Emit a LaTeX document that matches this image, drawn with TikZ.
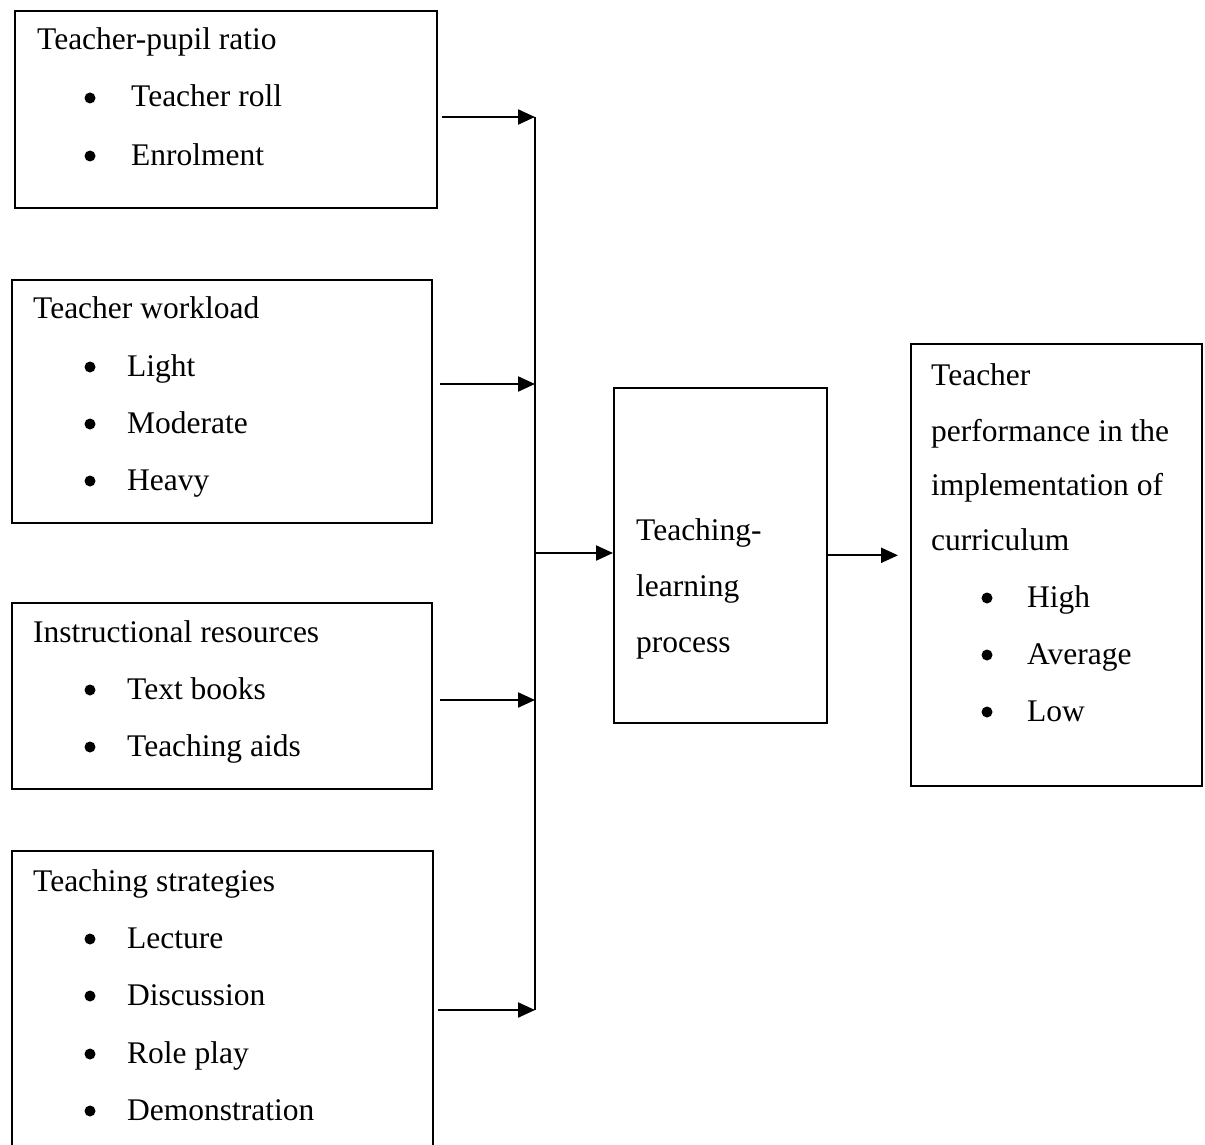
\documentclass[tikz,border=0pt]{standalone}
\usepackage{fontspec}
\setmainfont{Liberation Serif}
\usetikzlibrary{arrows.meta}

\begin{document}
\begin{tikzpicture}[x=1pt,y=-1pt,
  box/.style={rectangle,draw,line width=1.6pt,anchor=north west,inner sep=0pt},
  txt/.style={anchor=base west,inner sep=0pt,font=\fontsize{31.5}{38}\selectfont},
  dot/.style={circle,fill,inner sep=0pt,minimum size=11pt},
  arr/.style={-{Triangle[length=17pt,width=15pt]},line width=2.2pt},
  bus/.style={line width=1.8pt}]
\useasboundingbox (0,0) rectangle (1205,1145);

% left boxes
\path (14,10) node[box,minimum width=422pt,minimum height=197pt] (ratio){};
\path (37,50) node[txt] (ratio-t){Teacher-pupil ratio};
\path (90,98) node[dot] (ratio-d1){};
\path (131,107) node[txt] (roll){Teacher roll};
\path (90,156) node[dot] (ratio-d2){};
\path (131,165) node[txt] (enrol){Enrolment};

\path (11,279) node[box,minimum width=420pt,minimum height=243pt] (load){};
\path (33,318) node[txt] (load-t){Teacher workload};
\path (90,367) node[dot] (load-d1){};
\path (127,376) node[txt] (light){Light};
\path (90,424) node[dot] (load-d2){};
\path (127,433) node[txt] (moderate){Moderate};
\path (90,481) node[dot] (load-d3){};
\path (127,490) node[txt] (heavy){Heavy};

\path (11,602) node[box,minimum width=420pt,minimum height=186pt] (res){};
\path (33,642) node[txt] (res-t){Instructional resources};
\path (90,690) node[dot] (res-d1){};
\path (127,699) node[txt] (books){Text books};
\path (90,747) node[dot] (res-d2){};
\path (127,756) node[txt] (aids){Teaching aids};

\path (11,850) node[box,minimum width=421pt,minimum height=310pt] (strat){};
\path (33,891) node[txt] (strat-t){Teaching strategies};
\path (90,939) node[dot] (strat-d1){};
\path (127,948) node[txt] (lecture){Lecture};
\path (90,996) node[dot] (strat-d2){};
\path (127,1005) node[txt] (discuss){Discussion};
\path (90,1054) node[dot] (strat-d3){};
\path (127,1063) node[txt] (role){Role play};
\path (90,1111) node[dot] (strat-d4){};
\path (127,1120) node[txt] (demo){Demonstration};

% middle box
\path (613,387) node[box,minimum width=213pt,minimum height=335pt] (mid){};
\path (636,540) node[txt] (mid-1){Teaching-};
\path (636,596) node[txt] (mid-2){learning};
\path (636,652) node[txt] (mid-3){process};

% right box
\path (910,343) node[box,minimum width=291pt,minimum height=442pt] (perf){};
\path (931,385) node[txt] (perf-1){Teacher};
\path (931,441) node[txt] (perf-2){performance in the};
\path (931,495) node[txt] (perf-3){implementation of};
\path (931,550) node[txt] (perf-4){curriculum};
\path (987,598) node[dot] (perf-d1){};
\path (1027,607) node[txt] (high){High};
\path (987,655) node[dot] (perf-d2){};
\path (1027,664) node[txt] (avg){Average};
\path (987,712) node[dot] (perf-d3){};
\path (1027,721) node[txt] (low){Low};

% connectors
\coordinate (bus-top) at (535,117);
\coordinate (bus-2) at (535,384);
\coordinate (bus-3) at (535,700);
\coordinate (bus-bot) at (535,1010);
\coordinate (hub) at (535,553);
\draw[bus] (bus-top) -- (bus-bot);
\draw[arr] ([xshift=4pt]ratio.east |- bus-top) -- (bus-top);
\draw[arr] ([xshift=7pt]load.east |- bus-2) -- (bus-2);
\draw[arr] ([xshift=7pt]res.east |- bus-3) -- (bus-3);
\draw[arr] ([xshift=4pt]strat.east |- bus-bot) -- (bus-bot);
\draw[arr] (hub) -- (hub -| mid.west);
\draw[arr,shorten >=12pt] (mid.east) -- (mid.east -| perf.west);
\end{tikzpicture}
\end{document}
